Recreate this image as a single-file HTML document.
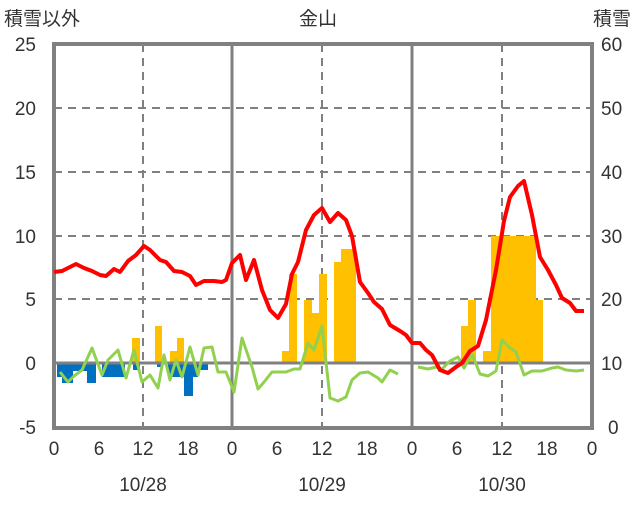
<!DOCTYPE html>
<html><head><meta charset="utf-8"><style>
body{margin:0;background:#fff}
svg text{font-family:"Liberation Sans","Noto Sans CJK JP",sans-serif;font-size:19px;fill:#333}
</style></head><body>
<svg width="636" height="501" viewBox="0 0 636 501" xmlns="http://www.w3.org/2000/svg">
<g stroke="#808080" stroke-width="2" stroke-dasharray="8,6">
<line x1="54" y1="299" x2="592" y2="299"/><line x1="54" y1="236" x2="592" y2="236"/>
<line x1="54" y1="172" x2="592" y2="172"/><line x1="54" y1="108" x2="592" y2="108"/>
<line x1="143" y1="44" x2="143" y2="428"/><line x1="322" y1="44" x2="322" y2="428"/><line x1="502" y1="44" x2="502" y2="428"/>
</g>
<g fill="#0070C0">
<rect x="57" y="363" width="5" height="14"/><rect x="62" y="363" width="11" height="20"/><rect x="73" y="363" width="14" height="8"/>
<rect x="87" y="363" width="9" height="20"/><rect x="102" y="363" width="23" height="14"/><rect x="133" y="363" width="7" height="7"/>
<rect x="157" y="363" width="5" height="4"/><rect x="168" y="363" width="30" height="14"/><rect x="184" y="363" width="9" height="33"/>
<rect x="198" y="363" width="10" height="7"/>
</g>
<g fill="#FFC000">
<rect x="132" y="338" width="8" height="25"/><rect x="155" y="326" width="7" height="37"/><rect x="170" y="351" width="7" height="12"/><rect x="177" y="338" width="7" height="25"/>
<rect x="282" y="351" width="7" height="12"/><rect x="289" y="274" width="8" height="89"/><rect x="304" y="300" width="8" height="63"/>
<rect x="312" y="313" width="7" height="50"/><rect x="319" y="274" width="8" height="89"/><rect x="334" y="262" width="7" height="101"/><rect x="341" y="249" width="15" height="114"/>
<rect x="461" y="326" width="7" height="37"/><rect x="468" y="300" width="8" height="63"/><rect x="483" y="351" width="8" height="12"/>
<rect x="491" y="236" width="45" height="127"/><rect x="536" y="300" width="7" height="63"/>
</g>
<g stroke="#808080" stroke-width="3" fill="none">
<line x1="54" y1="363" x2="592" y2="363"/>
<line x1="232" y1="44" x2="232" y2="428"/><line x1="412" y1="44" x2="412" y2="428"/>
</g>
<rect x="54" y="44" width="538" height="384" fill="none" stroke="#808080" stroke-width="4"/>
<polyline fill="none" stroke="#92D050" stroke-width="3" stroke-linejoin="round" points="60,372 68,382 74,376 82,370 92,348 102,375 108,360 118,350 126,378 134,350 142,382 150,375 158,388 164,355 170,380 176,360 182,377 190,347 198,375 204,348 212,347 218,372 226,372 234,392 242,338 252,367 258,389 264,382 272,372 280,372 286,372 294,369 300,369 308,343 314,350 322,326 330,398 338,401 346,397 352,380 360,373 368,372 378,378 382,382 390,370 398,374"/>
<polyline fill="none" stroke="#92D050" stroke-width="3" stroke-linejoin="round" points="418,367 428,369 436,367 442,369 450,361 458,357 464,368 472,354 480,374 488,376 496,371 502,340 510,348 516,352 524,375 532,371 542,371 552,368 558,367 566,370 576,371 584,370"/>
<polyline fill="none" stroke="#FF0000" stroke-width="4" stroke-linejoin="round" points="54,272 62,271 70,267 76,264 84,268 92,271 100,275 106,276 114,269 120,272 128,261 136,255 144,246 150,250 160,260 166,262 174,271 182,272 190,276 196,285 204,281 214,281 222,282 226,280 232,263 240,255 246,280 254,260 262,290 270,310 278,318 286,304 292,274 298,262 306,230 314,215 322,208 330,222 338,213 346,220 352,236 360,282 368,293 374,302 382,309 390,325 400,331 406,335 412,343 420,343 426,350 432,355 440,370 448,373 456,367 462,363 470,351 478,346 486,320 496,270 504,221 510,197 518,186 524,181 532,215 540,257 548,270 556,285 562,298 570,303 576,311 584,311"/>
<g text-anchor="end">
<text x="36" y="51">25</text><text x="36" y="115">20</text><text x="36" y="179">15</text><text x="36" y="243">10</text><text x="36" y="306">5</text><text x="36" y="370">0</text><text x="36" y="434">-5</text>
</g>
<g text-anchor="start">
<text x="601" y="51">60</text><text x="601" y="115">50</text><text x="601" y="179">40</text><text x="601" y="243">30</text><text x="601" y="306">20</text><text x="601" y="370">10</text><text x="608" y="434">0</text>
</g>
<g text-anchor="middle">
<text x="54" y="455">0</text><text x="99" y="455">6</text><text x="143" y="455">12</text><text x="188" y="455">18</text>
<text x="232" y="455">0</text><text x="277" y="455">6</text><text x="322" y="455">12</text><text x="367" y="455">18</text>
<text x="412" y="455">0</text><text x="457" y="455">6</text><text x="502" y="455">12</text><text x="547" y="455">18</text><text x="592" y="455">0</text>
<text x="143" y="491">10/28</text><text x="322" y="491">10/29</text><text x="502" y="491">10/30</text>
<text x="318" y="25">金山</text>
</g>
<text x="4" y="25">積雪以外</text>
<text x="593" y="25">積雪</text>
</svg>
</body></html>
